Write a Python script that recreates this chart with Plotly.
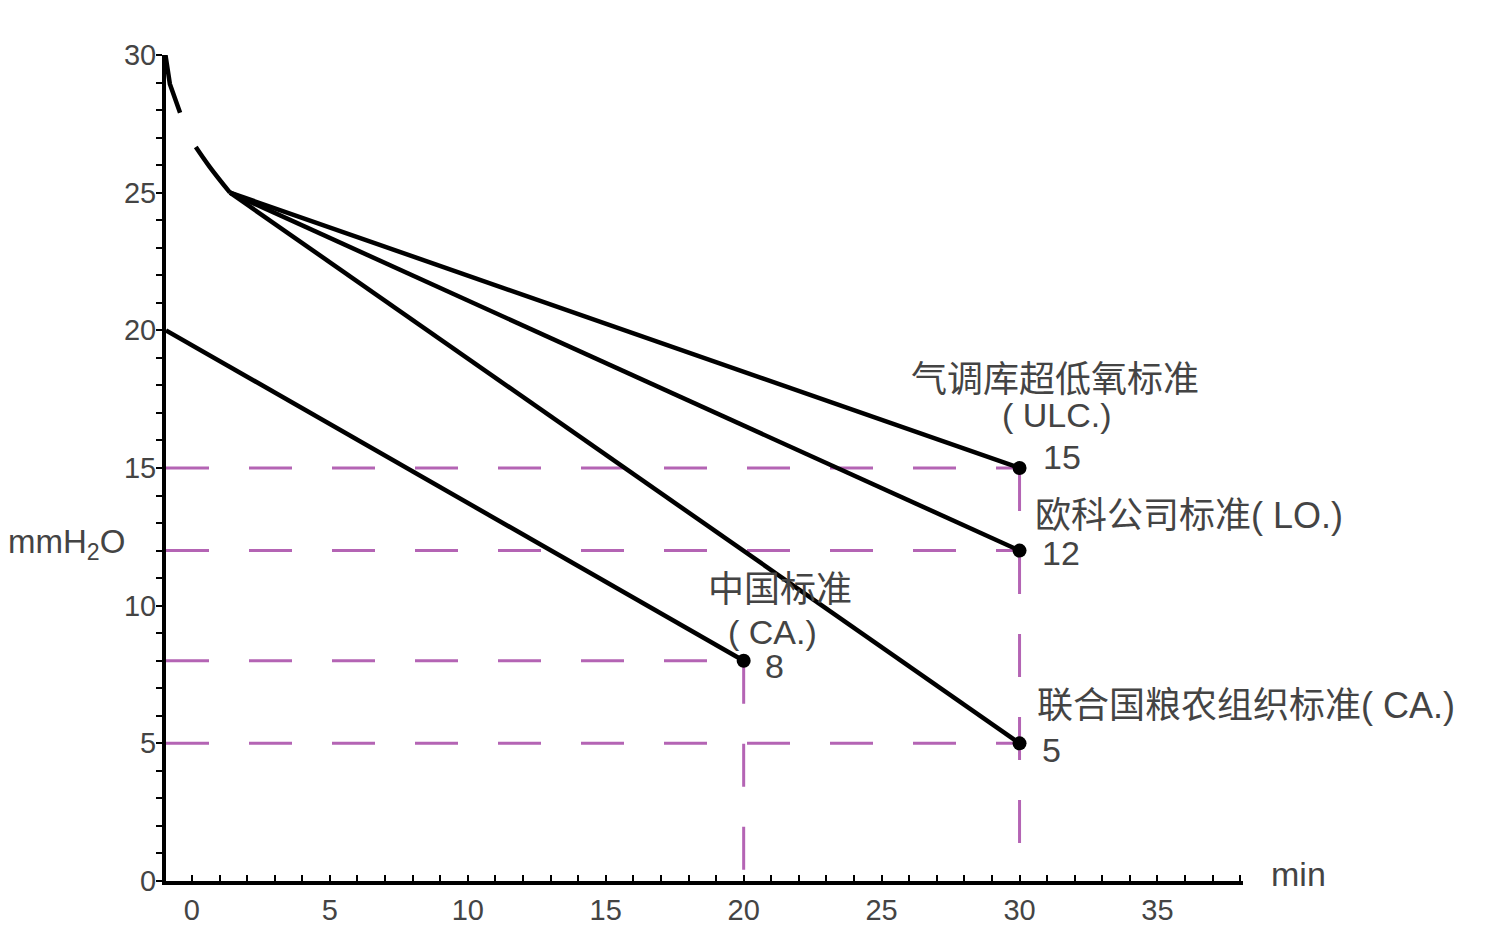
import plotly.graph_objects as go

# ---- data ----
x_min, x_max = -0.94, 38.1
y_min, y_max = 0, 30

curve1_x = [-0.96, -0.8, -0.43]
curve1_y = [30.0, 28.95, 27.9]

curve2_x = [0.14, 0.65, 1.38]
curve2_y = [26.66, 25.93, 25.0]

start_x, start_y = 1.38, 25.0
std_names = ["ULC", "LO", "FAO"]
std_end_x = [30, 30, 30]
std_end_y = [15, 12, 5]

china_x = [-0.94, 20]
china_y = [20, 8]

ref_levels = [15, 12, 8, 5]
ref_end_x = [30, 30, 20, 30]
vert_x = [20, 30]
vert_top = [8, 15]

x_ticks = [0, 5, 10, 15, 20, 25, 30, 35]
y_ticks = [0, 5, 10, 15, 20, 25, 30]

labels = [
    ("气调库超低氧标准", 31.28, 18.2, "center"),
    ("( ULC.)", 31.35, 16.93, "center"),
    ("15", 31.53, 15.4, "center"),
    ("欧科公司标准( LO.)", 30.48, 13.26, "left"),
    ("12", 30.73, 11.91, "left"),
    ("联合国粮农组织标准( CA.)", 30.55, 6.39, "left"),
    ("5", 30.73, 4.76, "left"),
    ("中国标准", 21.31, 10.57, "center"),
    ("( CA.)", 21.06, 9.04, "center"),
    ("8", 21.13, 7.81, "center"),
]

FONT = "Liberation Sans, Arial, Noto Sans CJK SC, sans-serif"
TXT = "#444444"
MAG = "#b464b4"

fig = go.Figure()

# dashed reference lines
for lvl, ex in zip(ref_levels, ref_end_x):
    fig.add_trace(go.Scatter(x=[x_min, ex], y=[lvl, lvl], mode="lines",
                             line=dict(color=MAG, width=3, dash="43px,40px"),
                             hoverinfo="skip", showlegend=False))
for vx, vt in zip(vert_x, vert_top):
    fig.add_trace(go.Scatter(x=[vx, vx], y=[vt, y_min], mode="lines",
                             line=dict(color=MAG, width=3, dash="43px,40px"),
                             hoverinfo="skip", showlegend=False))

# initial curves
fig.add_trace(go.Scatter(x=curve1_x, y=curve1_y, mode="lines",
                         line=dict(color="black", width=4.5),
                         showlegend=False))
fig.add_trace(go.Scatter(x=curve2_x, y=curve2_y, mode="lines",
                         line=dict(color="black", width=4.5, shape="spline"),
                         showlegend=False))

# standard lines
for ex, ey in zip(std_end_x, std_end_y):
    fig.add_trace(go.Scatter(x=[start_x, ex], y=[start_y, ey], mode="lines",
                             line=dict(color="black", width=4.5),
                             showlegend=False))
fig.add_trace(go.Scatter(x=china_x, y=china_y, mode="lines",
                         line=dict(color="black", width=4.5), showlegend=False))

# end dots
fig.add_trace(go.Scatter(x=std_end_x + [china_x[-1]], y=std_end_y + [china_y[-1]],
                         mode="markers", marker=dict(color="black", size=14),
                         cliponaxis=False, showlegend=False))

for text, x, y, anc in labels:
    sz = 36 if any(ord(c) > 0x2E80 for c in text) else 34
    fig.add_annotation(x=x, y=y, text=text, showarrow=False, xanchor=anc,
                       yanchor="middle", font=dict(family=FONT, size=sz, color=TXT))

fig.add_annotation(xref="paper", yref="paper", x=-0.092, y=0.408, xanchor="center",
                   yanchor="middle", text="mmH<sub>2</sub>O", showarrow=False,
                   font=dict(family=FONT, size=33, color=TXT))
fig.add_annotation(xref="paper", yref="paper", x=1.024, y=0.008, xanchor="left",
                   yanchor="middle", text="min", showarrow=False,
                   font=dict(family=FONT, size=34, color=TXT))

fig.update_layout(
    width=1474, height=918,
    margin=dict(l=158, r=239, t=47, b=45),
    paper_bgcolor="white", plot_bgcolor="white",
    font=dict(family=FONT, color=TXT),
    xaxis=dict(range=[x_min, x_max], showgrid=False, zeroline=False,
               automargin=False,
               showline=True, linecolor="black", linewidth=4,
               tickmode="array", tickvals=x_ticks, ticks="inside", ticklen=6,
               tickwidth=2, tickcolor="black",
               tickfont=dict(family=FONT, size=29, color=TXT),
               minor=dict(dtick=1, tick0=0, ticks="inside", ticklen=6,
                          tickwidth=2, tickcolor="black")),
    yaxis=dict(range=[y_min, y_max], showgrid=False, zeroline=False,
               automargin=False,
               showline=True, linecolor="black", linewidth=4,
               tickmode="array", tickvals=y_ticks, ticks="outside", ticklen=6,
               tickwidth=2, tickcolor="black",
               tickfont=dict(family=FONT, size=29, color=TXT),
               ticklabelstandoff=-6,
               minor=dict(dtick=1, tick0=0, ticks="outside", ticklen=6,
                          tickwidth=2, tickcolor="black")),
)

fig.write_html("out.html")
